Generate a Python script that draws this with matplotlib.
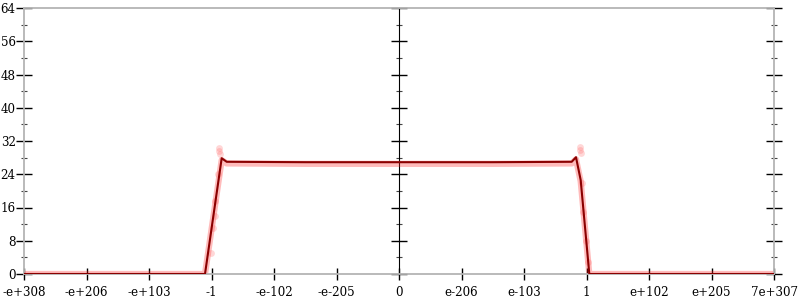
import numpy as np
import matplotlib
matplotlib.use("Agg")
import matplotlib.pyplot as plt

# x positions are in tick-index units (0 = -e+308, 6 = 0, 12 = 7e+307)
x_labels = ["-e+308", "-e+206", "-e+103", "-1", "-e-102", "-e-205", "0",
            "e-206", "e-103", "1", "e+102", "e+205", "7e+307"]

line_x = [0.0, 2.896, 3.163, 3.243, 4.5, 6.0, 7.5, 8.763, 8.832, 8.907,
          9.045, 10.0, 12.0]
line_y = [0.0, 0.0, 27.85, 27.0, 26.9, 26.9, 26.9, 27.0, 28.1, 22.6,
          0.0, 0.0, 0.0]

# faint band of samples just under the mean line
band_y = [0.0, 0.0, 27.4, 26.6, 26.5, 26.5, 26.5, 26.6, 27.6, 22.3,
          0.0, 0.0, 0.0]

# faint sample points (spikes near -1 and 1, and along the rising/falling flanks)
pts_x = [3.12, 3.12, 3.13, 3.10, 3.06, 3.02, 2.99, 3.05, 8.90, 8.90, 8.91,
         8.92, 8.95, 8.99, 9.02]
pts_y = [30.4, 29.6, 28.9, 24.0, 17.5, 11.0, 5.0, 14.0, 30.6, 29.8, 29.0,
         22.0, 15.0, 8.0, 3.0]

y_major = np.arange(0, 65, 8)
y_minor = np.arange(4, 64, 8)

plt.rcParams["font.family"] = "DejaVu Serif"
plt.rcParams["font.size"] = 8.6

fig = plt.figure(figsize=(8, 3), dpi=100)
ax = fig.add_axes([24 / 800, 26 / 300, 750 / 800, 266 / 300])

gray = "#b4b4b4"
for s in ax.spines.values():
    s.set_color(gray)
    s.set_linewidth(1.3)

ax.plot(line_x, band_y, color="#ff2020", lw=4.5, alpha=0.3,
        solid_joinstyle="round", zorder=2)
ax.scatter(pts_x, pts_y, s=24, color="#ff6060", alpha=0.25, lw=0, zorder=2)
ax.plot(line_x, line_y, color="#8b0000", lw=1.5, zorder=3)

ax.set_xlim(0, 12)
ax.set_ylim(0, 64)
ax.set_xticks(range(len(x_labels)))
ax.set_xticklabels(x_labels)
ax.set_yticks(y_major)
ax.set_yticks(y_minor, minor=True)

ax.tick_params(axis="x", which="major", direction="inout", length=9,
               width=1, color="black", pad=4)
ax.tick_params(axis="y", which="major", direction="inout", length=11,
               width=1, color="black", pad=0.5, right=True)
ax.tick_params(axis="y", which="minor", direction="inout", length=5,
               width=0.8, color="#444444", right=True)

# middle axis at x = 0
mid = ax.secondary_yaxis(0.5)
mid.spines["left"].set_color(gray)
mid.spines["left"].set_linewidth(1.3)
mid.set_yticks(y_major)
mid.set_yticks(y_minor, minor=True)
mid.set_yticklabels([])
mid.tick_params(which="major", direction="inout", length=12, width=1,
                color="black")
mid.tick_params(which="minor", direction="inout", length=5, width=0.8,
                color="#444444")

fig.savefig("out.png", dpi=100)
